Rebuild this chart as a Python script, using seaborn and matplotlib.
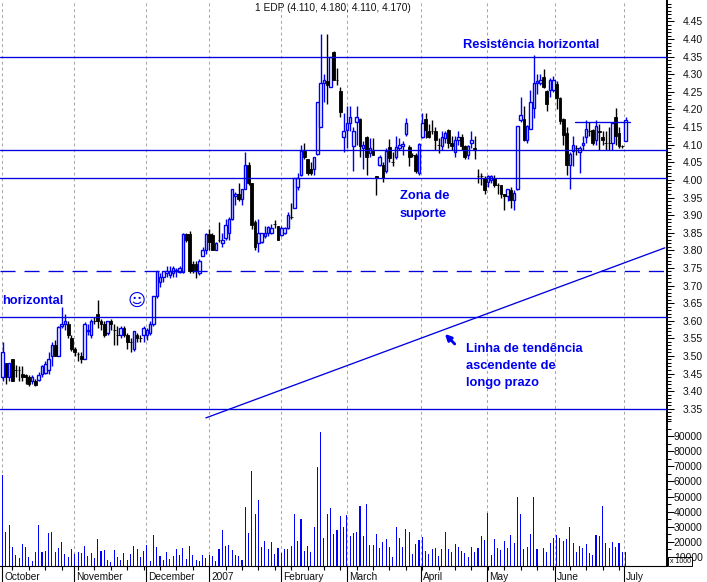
import numpy as np
import pandas as pd
import matplotlib.pyplot as plt
import seaborn as sns

opens = [
    3.44, 3.48, 3.44, 3.49, 3.46, 3.46, 3.45, 3.445, 3.44, 3.43,
    3.43, 3.433, 3.448, 3.452, 3.46, 3.50, 3.53, 3.50, 3.585, 3.59,
    3.59, 3.55, 3.52, 3.505, 3.50, 3.49, 3.57, 3.56, 3.60, 3.62,
    3.60, 3.59, 3.565, 3.60, 3.575, 3.56, 3.56, 3.58, 3.56, 3.54,
    3.52, 3.56, 3.55, 3.56, 3.56, 3.565, 3.59, 3.67, 3.71, 3.725,
    3.735, 3.73, 3.735, 3.74, 3.737, 3.737, 3.845, 3.845, 3.76, 3.76,
    3.735, 3.785, 3.80, 3.845, 3.844, 3.80, 3.83, 3.82, 3.835, 3.85,
    3.89, 3.953, 3.96, 3.945, 3.975, 4.043, 3.99, 3.88, 3.82, 3.825,
    3.84, 3.85, 3.85, 3.875, 3.87, 3.844, 3.85, 3.862, 3.895, 3.92,
    3.98, 4.015, 4.083, 4.06, 4.03, 4.03, 4.073, 4.15, 4.275, 4.28,
    4.265, 4.363, 4.285, 4.253, 4.123, 4.142, 4.163, 4.095, 4.165, 4.172,
    4.09, 4.123, 4.075, 4.083, 4.01, 4.043, 4.042, 4.024, 4.093, 4.05,
    4.064, 4.09, 4.095, 4.13, 4.093, 4.07, 4.07, 4.02, 4.123, 4.172,
    4.14, 4.14, 4.14, 4.10, 4.095, 4.118, 4.142, 4.105, 4.08, 4.112,
    4.123, 4.095, 4.07, 4.104, 4.092, 4.01, 4.01, 4.005, 3.995, 4.0,
    4.005, 3.985, 3.985, 3.96, 3.953, 3.97, 3.943, 3.973, 4.17, 4.172,
    4.112, 4.144, 4.204, 4.275, 4.275, 4.292, 4.253, 4.255, 4.255, 4.272,
    4.232, 4.172, 4.132, 4.043, 4.083, 4.09, 4.08, 4.10, 4.123, 4.14,
    4.142, 4.112, 4.14, 4.123, 4.105, 4.105, 4.104, 4.18, 4.132, 4.096, 4.11,
]
highs = [
    3.54, 3.48, 3.48, 3.49, 3.475, 3.47, 3.47, 3.45, 3.445, 3.445,
    3.435, 3.455, 3.475, 3.485, 3.51, 3.54, 3.545, 3.585, 3.64, 3.62,
    3.60, 3.56, 3.525, 3.51, 3.51, 3.595, 3.59, 3.605, 3.61, 3.66,
    3.605, 3.60, 3.60, 3.605, 3.59, 3.585, 3.585, 3.585, 3.565, 3.55,
    3.57, 3.565, 3.56, 3.585, 3.58, 3.60, 3.67, 3.74, 3.735, 3.74,
    3.755, 3.755, 3.755, 3.75, 3.755, 3.85, 3.85, 3.855, 3.77, 3.77,
    3.775, 3.81, 3.85, 3.86, 3.85, 3.825, 3.88, 3.85, 3.89, 3.895,
    3.975, 3.965, 3.99, 3.975, 4.08, 4.05, 3.99, 3.885, 3.89, 3.85,
    3.87, 3.87, 3.875, 3.885, 3.87, 3.87, 3.865, 3.91, 3.935, 4.005,
    4.02, 4.10, 4.105, 4.06, 4.05, 4.065, 4.22, 4.415, 4.30, 4.415,
    4.35, 4.365, 4.317, 4.265, 4.19, 4.21, 4.21, 4.15, 4.21, 4.175,
    4.11, 4.125, 4.12, 4.12, 4.01, 4.07, 4.05, 4.09, 4.115, 4.08,
    4.125, 4.12, 4.11, 4.175, 4.10, 4.075, 4.075, 4.105, 4.19, 4.19,
    4.16, 4.17, 4.15, 4.12, 4.14, 4.14, 4.145, 4.125, 4.125, 4.14,
    4.13, 4.10, 4.10, 4.14, 4.125, 4.03, 4.02, 4.01, 4.015, 4.015,
    4.015, 3.99, 3.985, 3.96, 3.975, 3.98, 3.97, 4.152, 4.235, 4.21,
    4.155, 4.255, 4.354, 4.30, 4.30, 4.315, 4.255, 4.29, 4.295, 4.28,
    4.235, 4.175, 4.15, 4.08, 4.125, 4.10, 4.095, 4.125, 4.17, 4.165,
    4.145, 4.17, 4.16, 4.14, 4.14, 4.15, 4.165, 4.205, 4.15, 4.10, 4.18,
]
lows = [
    3.43, 3.42, 3.43, 3.43, 3.44, 3.43, 3.43, 3.42, 3.415, 3.42,
    3.415, 3.43, 3.44, 3.45, 3.45, 3.47, 3.50, 3.50, 3.58, 3.575,
    3.55, 3.515, 3.50, 3.485, 3.48, 3.49, 3.56, 3.55, 3.59, 3.58,
    3.575, 3.555, 3.56, 3.575, 3.53, 3.53, 3.55, 3.555, 3.52, 3.51,
    3.515, 3.54, 3.54, 3.54, 3.545, 3.56, 3.585, 3.665, 3.695, 3.71,
    3.725, 3.72, 3.725, 3.725, 3.735, 3.735, 3.825, 3.735, 3.735, 3.72,
    3.73, 3.785, 3.79, 3.80, 3.80, 3.80, 3.825, 3.81, 3.83, 3.83,
    3.885, 3.93, 3.94, 3.93, 3.975, 3.985, 3.86, 3.80, 3.795, 3.82,
    3.835, 3.84, 3.845, 3.862, 3.83, 3.84, 3.845, 3.86, 3.89, 3.92,
    3.97, 4.01, 4.06, 4.015, 4.015, 4.015, 4.07, 4.15, 4.22, 4.215,
    4.265, 4.285, 4.27, 4.18, 4.08, 4.09, 4.14, 4.025, 4.10, 4.065,
    4.03, 4.015, 4.065, 4.07, 3.958, 4.04, 3.995, 4.02, 4.05, 4.04,
    4.06, 4.085, 4.07, 4.125, 4.04, 4.065, 4.02, 4.015, 4.12, 4.12,
    4.12, 4.13, 4.085, 4.075, 4.085, 4.105, 4.09, 4.085, 4.065, 4.10,
    4.085, 4.06, 4.06, 4.09, 4.06, 3.99, 3.985, 3.96, 3.98, 3.99,
    3.98, 3.96, 3.95, 3.915, 3.94, 3.92, 3.915, 3.97, 4.165, 4.11,
    4.105, 4.144, 4.175, 4.245, 4.27, 4.26, 4.195, 4.235, 4.25, 4.20,
    4.16, 4.10, 4.015, 3.975, 4.04, 4.07, 4.02, 4.085, 4.105, 4.125,
    4.10, 4.10, 4.085, 4.10, 4.085, 4.085, 4.085, 4.10, 4.09, 4.09, 4.11,
]
closes = [
    3.51, 3.44, 3.48, 3.43, 3.46, 3.46, 3.44, 3.44, 3.42, 3.44,
    3.417, 3.445, 3.47, 3.478, 3.49, 3.53, 3.50, 3.583, 3.59, 3.60,
    3.56, 3.52, 3.51, 3.505, 3.49, 3.59, 3.575, 3.60, 3.60, 3.60,
    3.59, 3.56, 3.60, 3.59, 3.575, 3.56, 3.58, 3.56, 3.54, 3.54,
    3.57, 3.55, 3.55, 3.58, 3.575, 3.59, 3.67, 3.74, 3.725, 3.74,
    3.74, 3.74, 3.75, 3.745, 3.75, 3.845, 3.83, 3.74, 3.74, 3.74,
    3.77, 3.80, 3.845, 3.825, 3.80, 3.82, 3.83, 3.83, 3.872, 3.89,
    3.973, 3.96, 3.945, 3.975, 4.043, 3.99, 3.872, 3.81, 3.85, 3.85,
    3.85, 3.865, 3.862, 3.875, 3.83, 3.862, 3.862, 3.90, 3.895, 4.005,
    4.005, 4.083, 4.065, 4.02, 4.02, 4.065, 4.22, 4.275, 4.285, 4.27,
    4.348, 4.285, 4.285, 4.194, 4.14, 4.163, 4.18, 4.14, 4.18, 4.095,
    4.10, 4.066, 4.09, 4.07, 4.005, 4.066, 4.005, 4.083, 4.062, 4.05,
    4.094, 4.10, 4.102, 4.163, 4.064, 4.07, 4.024, 4.102, 4.163, 4.142,
    4.123, 4.14, 4.112, 4.10, 4.123, 4.132, 4.104, 4.095, 4.114, 4.123,
    4.095, 4.065, 4.095, 4.112, 4.087, 4.01, 4.01, 3.97, 4.01, 4.01,
    3.985, 3.985, 3.96, 3.953, 3.973, 3.943, 3.962, 4.152, 4.183, 4.113,
    4.152, 4.22, 4.275, 4.28, 4.285, 4.265, 4.215, 4.285, 4.285, 4.232,
    4.166, 4.128, 4.043, 4.073, 4.10, 4.09, 4.09, 4.105, 4.144, 4.14,
    4.104, 4.152, 4.135, 4.113, 4.105, 4.105, 4.163, 4.125, 4.096, 4.096, 4.17,
]
# volume in thousands, one value per session
volumes = [
    64, 26.5, 31, 16.6, 11.3, 9.3, 18.6, 16.6, 10, 7.3, 13.3, 31, 13.3, 14, 26, 26.5, 13.3, 16, 20, 12, 10, 15,
    12, 13.3, 12.6, 17.2, 10.6, 12.6, 9.3, 22, 14, 14.6, 8, 6.6, 14.6, 10, 8, 12.6, 8, 12, 17, 15, 10, 14, 18,
    7.3, 24.5, 16.6, 10.6, 8, 13.3, 8.6, 10.6, 15, 11.3, 16, 8.6, 17, 11.3, 8, 7.3, 11.3, 9.3, 11.3,
    10.6, 7.3, 15, 28, 17, 18, 14.6, 11.3, 10.6, 8, 43, 26, 67, 38.4, 47.7, 16.6, 20.6, 15, 20, 12, 16, 12.6,
    15, 15, 17, 38.4, 20.6, 35, 14, 17, 13.3, 30, 69.6, 93, 22.5, 38.4, 42.4, 25, 28, 37, 30, 38,
    24, 25.6, 26.5, 44, 24, 45, 18, 18, 25, 16, 20, 22, 16.6, 10, 30, 22.5, 16.6, 28.5, 26.5, 12, 18.6, 21,
    23, 14, 12, 15, 16, 10.6, 15, 26.5, 15, 13.3, 18.6, 16.6, 14, 12.6, 10, 16.6, 13.3, 16, 24, 21.4,
    39, 11.3, 22, 16, 14.6, 20.6, 16, 24.5, 19, 50, 38.4, 15, 16.6, 25, 50, 15, 0, 16, 13.3, 19,
    22.5, 24.5, 22.5, 20.6, 22, 30, 19, 13.3, 17, 16, 18.6, 12.6, 11.3, 24.5, 24, 44, 19, 16, 20, 16.6, 19,
    13.3, 13.3,
]

month_names = ['October', 'November', 'December', '2007', 'February', 'March', 'April', 'May', 'June', 'July']
month_starts = [-0.1, 21.8, 43.8, 63, 85, 105, 127.5, 147.6, 168.4, 189.5]
solid_levels = [4.348, 4.085, 4.005, 3.61, 3.35]
dashed_level = 3.74
trend_x = [62, 202]
trend_y = [3.324, 3.807]
box_x = [174.5, 191.4]
box_level = 4.164
price_ticks = [round(3.35 + 0.05 * i, 2) for i in range(23)]
price_minor = [round(3.32 + 0.01 * i, 2) for i in range(119)]
volume_ticks = [10, 20, 30, 40, 50, 60, 70, 80, 90]

W, H = 707, 582
BLUE = '#0000f0'
LINE_BLUE = '#0000e0'


def px_axes(fig, left, top, right, bottom):
    return fig.add_axes([left / W, 1 - bottom / H, (right - left) / W, (bottom - top) / H])


sns.set_style('white')
plt.rcParams['font.family'] = ['Liberation Sans', 'DejaVu Sans']

fig = plt.figure(figsize=(W / 100, H / 100), dpi=100)
ax = px_axes(fig, 0, 0, 666.5, 420)
ax_vol = px_axes(fig, 0, 420, 666.5, 566)
ax.patch.set_alpha(0)
ax_vol.patch.set_alpha(0)

# candles
df = pd.DataFrame({'open': opens, 'high': highs, 'low': lows, 'close': closes})
df['i'] = df.index
up = df[df['close'] > df['open']]
down = df[df['close'] <= df['open']]
ax.vlines(up['i'], up['low'], up['high'], color=BLUE, lw=1.0, zorder=3)
ax.vlines(down['i'], down['low'], down['high'], color='black', lw=1.0, zorder=3)
ax.bar(up['i'], up['close'] - up['open'], bottom=up['open'], width=0.75,
       facecolor='white', edgecolor=BLUE, linewidth=1.0, zorder=4)
ax.bar(down['i'], down['open'] - down['close'], bottom=down['close'], width=0.85,
       facecolor='black', edgecolor='black', linewidth=0.6, zorder=4)

for level in solid_levels:
    ax.axhline(level, color=LINE_BLUE, lw=0.95, zorder=5)
ax.axhline(dashed_level, color=LINE_BLUE, lw=0.95, dashes=(11.4, 6.8), zorder=5)
ax.plot(trend_x, trend_y, color=LINE_BLUE, lw=0.95, zorder=5)
ax.plot(box_x, [box_level, box_level], color=LINE_BLUE, lw=0.95, zorder=5)

# volume
vol_df = pd.DataFrame({'i': range(len(volumes)), 'v': volumes})
sns.barplot(data=vol_df, x='i', y='v', native_scale=True, color='#0000ff', saturation=1,
            width=0.33, linewidth=0, errorbar=None, ax=ax_vol, zorder=3)

for a in (ax, ax_vol):
    for x0 in month_starts:
        a.axvline(x0, color='#a8a8a8', lw=0.75, dashes=(2.8, 2.8), zorder=1)
    a.set_xlim(-0.81, 202.5)
    a.yaxis.tick_right()
    a.set_xlabel('')
    a.set_ylabel('')
    for s in ['top', 'left', 'bottom']:
        a.spines[s].set_visible(False)
    a.spines['right'].set_visible(True)
    a.spines['right'].set_color('black')
    a.spines['right'].set_linewidth(1.4)

ax.set_ylim(3.318, 4.511)
ax.set_xticks([])
ax.set_yticks(price_ticks)
ax.set_yticklabels([f'{t:.2f}' for t in price_ticks], ha='right')
ax.set_yticks(price_minor, minor=True)

ax_vol.set_ylim(4, 100.7)
ax_vol.set_yticks(volume_ticks)
ax_vol.set_yticklabels([str(t * 1000) for t in volume_ticks], ha='right')
ax_vol.set_yticks([5, 15, 25, 35, 45, 55, 65, 75, 85, 95, 100], minor=True)
ax_vol.spines['bottom'].set_visible(True)
ax_vol.spines['bottom'].set_color('black')
ax_vol.spines['bottom'].set_linewidth(0.8)
ax_vol.set_xticks(month_starts)
ax_vol.set_xticklabels([])
ax_vol.set_xticks(list(range(3, 191, 5)), minor=True)
ax_vol.tick_params(axis='x', which='major', bottom=True, length=11.5, width=0.8, color='black')
ax_vol.tick_params(axis='x', which='minor', bottom=True, length=3, width=0.8, color='black')

for a in (ax, ax_vol):
    a.tick_params(axis='y', which='major', right=True, left=False, length=5.2, width=0.75, pad=20.8,
                  labelsize=7.5, color='black', labelcolor='#111111')
    a.tick_params(axis='y', which='minor', right=True, left=False, length=2.6, width=0.75, color='black')

for name, x0 in zip(month_names, month_starts):
    ax_vol.annotate(name, xy=(x0, 0), xycoords=('data', 'axes fraction'), xytext=(1.6, -8),
                    textcoords='offset points', ha='left', va='center', fontsize=7.3, color='#111111')


def label(x, y, s):
    fig.text(x / W, 1 - y / H, s, color=BLUE, fontsize=9.3, fontweight='bold', va='center')


fig.text(255 / W, 1 - 8 / H, '1 EDP (4.110, 4.180, 4.110, 4.170)', fontsize=7.3, color='#111111', va='center')
label(2, 301, 'horizontal')
label(463, 45, 'Resistência horizontal')
label(400, 196, 'Zona de')
label(400, 214, 'suporte')
label(466, 349, 'Linha de tendência')
label(466, 366, 'ascendente de')
label(466, 383, 'longo prazo')
fig.text(137 / W, 1 - 301 / H, '\u263a', family='DejaVu Sans', fontsize=12.5, color=BLUE, ha='center', va='center')

ax.annotate('', xy=(134.9, 3.5625), xytext=(137.9, 3.534),
            arrowprops=dict(arrowstyle='-|>', color=BLUE, lw=2.0, mutation_scale=9, shrinkA=0, shrinkB=0))

fig.text(680 / W, 1 - 561.5 / H, 'x 1000', fontsize=5, color='#111111', ha='center', va='center', zorder=10,
         bbox=dict(boxstyle='square,pad=0.2', fc='white', ec='black', lw=0.7))

fig.savefig('out.png', dpi=100)
